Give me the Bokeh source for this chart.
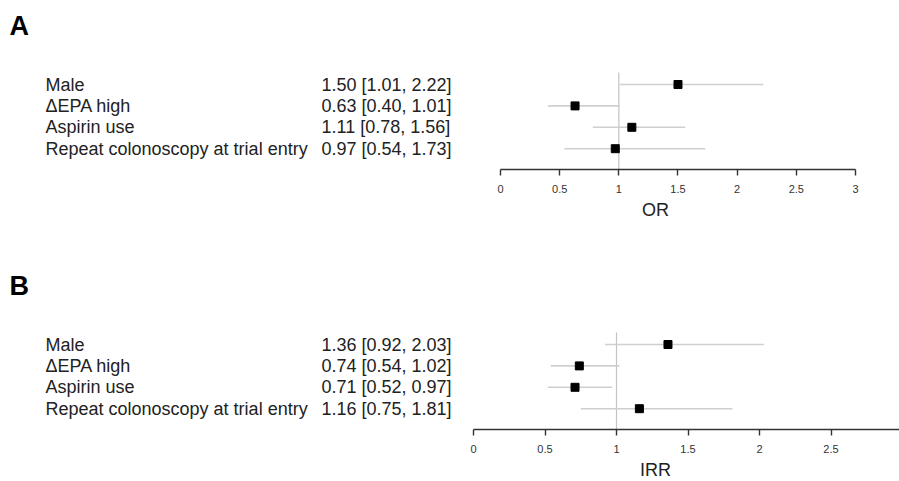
from bokeh.plotting import figure
from bokeh.layouts import column
from bokeh.models import Range1d, LinearAxis, FixedTicker, Title, ColumnDataSource
from bokeh.core.properties import value
from bokeh.embed import file_html
from bokeh.resources import INLINE

labels = ["Male", "\u0394EPA high", "Aspirin use", "Repeat colonoscopy at trial entry"]
or_est = [1.50, 0.63, 1.11, 0.97]
or_lo = [1.01, 0.40, 0.78, 0.54]
or_hi = [2.22, 1.01, 1.56, 1.73]
irr_est = [1.36, 0.74, 0.71, 1.16]
irr_lo = [0.92, 0.54, 0.52, 0.75]
irr_hi = [2.03, 1.02, 0.97, 1.81]
ticks = [0, 0.5, 1, 1.5, 2, 2.5, 3]
tick_labels = ["0", "0.5", "1", "1.5", "2", "2.5", "3"]

FONT = "Liberation Sans"
W = 899
FRAME_H = 169
ROW0 = 84.0
ROW_STEP = 21.4


def make_panel(letter, est, lo, hi, x0_px, ppu, axis_name, name_w, height):
    xs = Range1d(-x0_px / ppu, (W - x0_px) / ppu)
    ys = Range1d((FRAME_H - ROW0) / ROW_STEP, -ROW0 / ROW_STEP)
    p = figure(width=W, height=height, x_range=xs, y_range=ys,
               x_axis_type=None, y_axis_type=None, toolbar_location=None,
               output_backend="svg", min_border_left=0, min_border_right=0,
               min_border_top=0, min_border_bottom=height - FRAME_H)
    p.outline_line_color = None
    p.xgrid.visible = False
    p.ygrid.visible = False
    p.background_fill_color = "white"
    p.border_fill_color = "white"

    def dx(px):
        return (px - x0_px) / ppu

    def dy(px):
        return (px - ROW0) / ROW_STEP

    rows = list(range(len(labels)))
    texts = ["%.2f [%.2f, %.2f]" % (e, l, h) for e, l, h in zip(est, lo, hi)]
    src = ColumnDataSource(dict(y=rows, lab=labels, txt=texts, est=est, lo=lo, hi=hi,
                                xl=[dx(45)] * len(rows), xr=[dx(321)] * len(rows)))

    # reference line at 1
    p.segment(x0=1, x1=1, y0=dy(72), y1=(FRAME_H - ROW0) / ROW_STEP,
              line_color="#c4c4c4", line_width=1.2)
    p.segment(x0="lo", x1="hi", y0="y", y1="y", source=src,
              line_color="#cfcfcf", line_width=1.6)
    p.scatter(x="est", y="y", source=src, marker="square", size=8,
              fill_color="black", line_color="black")

    p.text(x="xl", y="y", text="lab", source=src, text_font=value(FONT),
           text_font_size="18px", text_color="#222222", text_baseline="middle")
    p.text(x="xr", y="y", text="txt", source=src, text_font=value(FONT),
           text_font_size="18px", text_color="#222222", text_baseline="middle")

    p.text(x=[dx(9)], y=[dy(25)], text=[letter], text_font=value(FONT),
           text_font_size="27px", text_font_style="bold", text_color="black",
           text_baseline="middle")

    ax = LinearAxis(ticker=FixedTicker(ticks=ticks), bounds=(0, 3))
    ax.major_label_overrides = {t: s for t, s in zip(ticks, tick_labels)}
    ax.axis_line_color = "#333333"
    ax.axis_line_width = 1.6
    ax.major_tick_line_color = "#333333"
    ax.major_tick_line_width = 1.4
    ax.major_tick_in = 0
    ax.major_tick_out = 6
    ax.minor_tick_line_color = None
    ax.major_label_text_font = FONT
    ax.major_label_text_font_size = "11px"
    ax.major_label_text_color = "#333333"
    ax.major_label_standoff = 9
    p.add_layout(ax, "below")

    t = Title(text=axis_name, align="left", offset=655 - name_w / 2,
              text_font=FONT, text_font_size="18px", text_font_style="normal",
              text_color="#222222", standoff=4)
    p.add_layout(t, "below")
    return p


pA = make_panel("A", or_est, or_lo, or_hi, 500.0, 118.33, "OR", 27, 260)
pB = make_panel("B", irr_est, irr_lo, irr_hi, 473.0, 143.0, "IRR", 31, 221)

layout = column(pA, pB, spacing=0)
open("out.html", "w").write(file_html(layout, INLINE))
